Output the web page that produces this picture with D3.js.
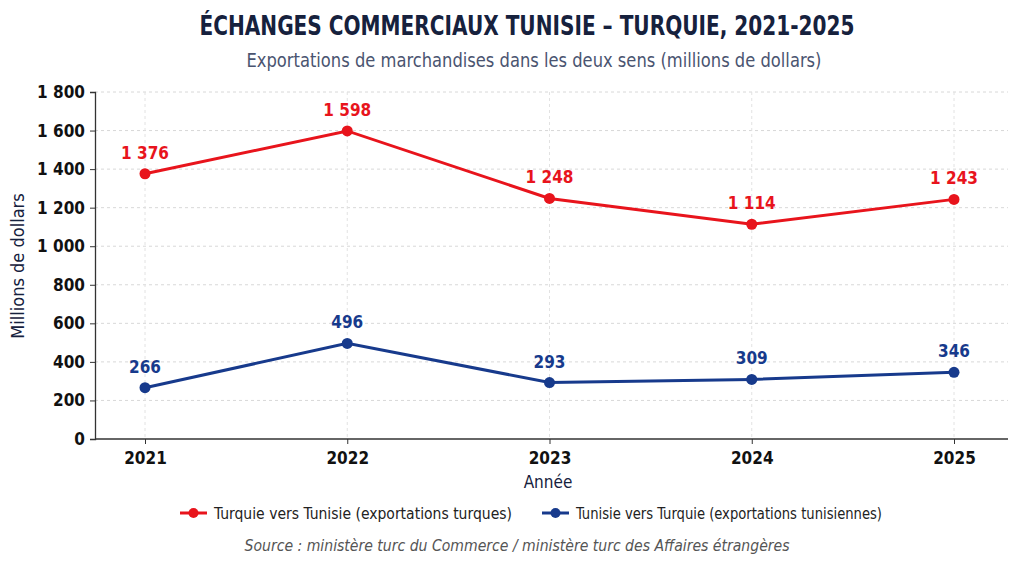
<!DOCTYPE html>
<html><head><meta charset="utf-8">
<script src="https://cdn.jsdelivr.net/npm/d3@7"></script>
<style>
body{margin:0;background:#fff;}
svg{display:block;}
text{font-family:"DejaVu Sans Condensed","Liberation Sans Narrow","Roboto",sans-serif;font-stretch:condensed;}
</style></head>
<body><svg id="c" width="1024" height="562"></svg>
<script>
const years = ["2021","2022","2023","2024","2025"];
const turqueVersTunisie = [1376, 1598, 1248, 1114, 1243];
const tunisieVersTurquie = [266, 496, 293, 309, 346];
const yTicks = [0,200,400,600,800,1000,1200,1400,1600,1800];
const seriesNames = ["Turquie vers Tunisie (exportations turques)","Tunisie vers Turquie (exportations tunisiennes)"];
const colors = ["#e8141c","#173a8c"];

const FF = '"DejaVu Sans Condensed","Liberation Sans Narrow","Roboto",sans-serif';
const svg = d3.select("#c");
const m = {l:95, r:1008, t:92, b:439};
const x = d3.scalePoint().domain(years).range([145,954]);
const y = d3.scaleLinear().domain([0,1800]).range([m.b,m.t]);
const fmt = v => d3.format(",")(v).replace(/,/g," ");

// grid
svg.append("g").selectAll("line").data(yTicks.filter(d=>d>0)).join("line")
 .attr("x1",m.l).attr("x2",m.r).attr("y1",d=>y(d)).attr("y2",d=>y(d))
 .attr("stroke","#d8d8d8").attr("stroke-dasharray","3,3");
svg.append("g").selectAll("line").data(years).join("line")
 .attr("x1",d=>x(d)).attr("x2",d=>x(d)).attr("y1",m.t).attr("y2",m.b)
 .attr("stroke","#e2e2e2").attr("stroke-dasharray","3,3");

// axes
const ya = svg.append("g").attr("transform",`translate(${m.l},0)`)
 .call(d3.axisLeft(y).tickValues(yTicks).tickFormat(fmt).tickSize(5).tickPadding(5));
const xa = svg.append("g").attr("transform",`translate(0,${m.b})`)
 .call(d3.axisBottom(x).tickSize(5).tickPadding(4));
xa.select(".domain").attr("d",`M${m.l},0H${m.r}`);
[ya,xa].forEach(a=>{
 a.select(".domain").attr("stroke","#333").attr("stroke-width",1.3);
 a.selectAll(".tick line").attr("stroke","#333");
 a.selectAll(".tick text").attr("font-size",17).attr("font-weight","bold").attr("fill","#111")
  .style("font-family",FF);
});
xa.selectAll(".tick text").attr("dy","0.95em");

// series
const all = [turqueVersTunisie, tunisieVersTurquie];
const line = d3.line().x((d,i)=>x(years[i])).y(d=>y(d));
all.forEach((vals,k)=>{
 const g = svg.append("g");
 g.append("path").datum(vals).attr("d",line).attr("fill","none").attr("stroke",colors[k]).attr("stroke-width",3);
 g.selectAll("circle").data(vals).join("circle").attr("cx",(d,i)=>x(years[i])).attr("cy",d=>y(d)).attr("r",5.5).attr("fill",colors[k]);
 g.selectAll("text").data(vals).join("text").attr("x",(d,i)=>x(years[i])).attr("y",d=>y(d)-15)
  .attr("text-anchor","middle").attr("font-size",17).attr("font-weight","bold").attr("fill",colors[k]).text(fmt);
});

// titles
svg.append("text").attr("x",527).attr("y",35).attr("text-anchor","middle").attr("font-size",27).attr("font-weight","bold").attr("fill","#16213d")
 .attr("textLength",655).attr("lengthAdjust","spacingAndGlyphs")
 .text("ÉCHANGES COMMERCIAUX TUNISIE – TURQUIE, 2021-2025");
svg.append("text").attr("x",534).attr("y",67).attr("text-anchor","middle").attr("font-size",19).attr("fill","#4a5470")
 .attr("textLength",575).attr("lengthAdjust","spacingAndGlyphs")
 .text("Exportations de marchandises dans les deux sens (millions de dollars)");
svg.append("text").attr("transform","translate(24,266) rotate(-90)").attr("text-anchor","middle").attr("font-size",18).attr("fill","#16213d")
 .text("Millions de dollars");
svg.append("text").attr("x",548).attr("y",488).attr("text-anchor","middle").attr("font-size",17).attr("fill","#16213d").text("Année");

// legend
const legX = [180,542];
const legW = [298,306];
seriesNames.forEach((n,k)=>{
 const g = svg.append("g").attr("transform",`translate(${legX[k]},513)`);
 g.append("line").attr("x1",0).attr("x2",27).attr("stroke",colors[k]).attr("stroke-width",3);
 g.append("circle").attr("cx",13.5).attr("r",5).attr("fill",colors[k]);
 g.append("text").attr("x",34).attr("y",5.5).attr("font-size",15).attr("fill","#222")
  .attr("textLength",legW[k]).attr("lengthAdjust","spacingAndGlyphs").text(n);
});
svg.append("text").attr("x",517).attr("y",551).attr("text-anchor","middle").attr("font-size",15).attr("font-style","italic").attr("fill","#555")
 .attr("textLength",545).attr("lengthAdjust","spacingAndGlyphs")
 .text("Source : ministère turc du Commerce / ministère turc des Affaires étrangères");
</script></body></html>
